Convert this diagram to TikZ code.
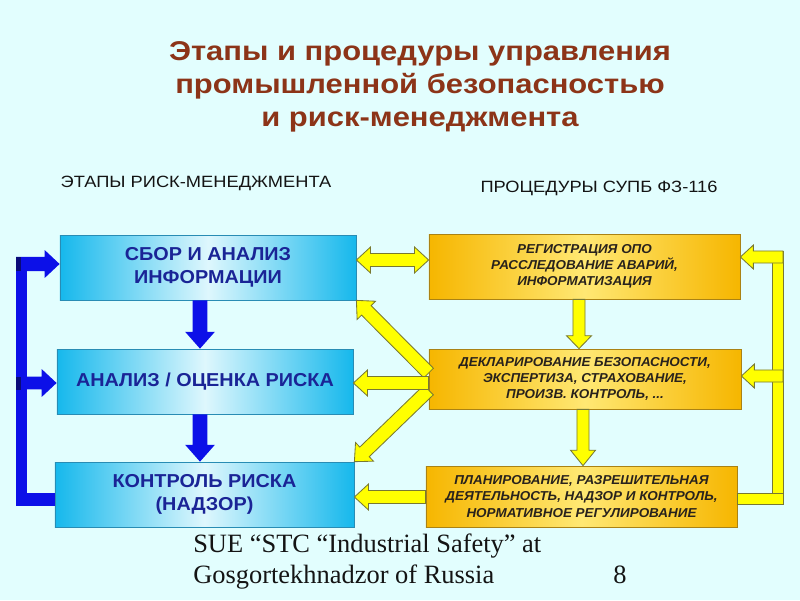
\documentclass[tikz,border=0pt]{standalone}
\usepackage{fontspec}
\setmainfont{Liberation Sans}
\newfontfamily\footfont{Liberation Serif}
\newfontfamily\titlefont[FakeStretch=1.14]{Liberation Sans}
\newfontfamily\headfont[FakeStretch=1.12]{Liberation Sans}
\newfontfamily\stagefont[FakeStretch=1.06]{Liberation Sans}
\newfontfamily\procfont[FakeStretch=1.04]{Liberation Sans}
\usetikzlibrary{calc}
\definecolor{pagebg}{RGB}{226,254,254}
\definecolor{titlebrown}{RGB}{140,52,24}
\definecolor{headblack}{RGB}{20,20,20}
\definecolor{stagecyan}{RGB}{22,184,236}
\definecolor{stagelight}{RGB}{222,247,253}
\definecolor{stageedge}{RGB}{40,140,180}
\definecolor{stagetext}{RGB}{26,36,150}
\definecolor{procorange}{RGB}{246,182,0}
\definecolor{proclight}{RGB}{255,232,115}
\definecolor{procedge}{RGB}{170,130,20}
\definecolor{proctext}{RGB}{40,34,28}
\definecolor{flowblue}{RGB}{12,16,232}
\definecolor{flowbluedark}{RGB}{10,10,120}
\definecolor{flowyellow}{RGB}{255,255,0}
\definecolor{flowyellowedge}{RGB}{120,120,50}
\definecolor{foottext}{RGB}{20,20,20}

% block arrow: style, tail, tip, shaft half width, head half width, head length
\newcommand{\blockarr}[6]{%
  \coordinate (headbase) at ($(#3)!#6!(#2)$);
  \path[#1] ($(#2)!#4!90:(#3)$) -- ($(headbase)!#4!90:(#3)$)
    -- ($(headbase)!#5!90:(#3)$) -- (#3)
    -- ($(headbase)!#5!-90:(#3)$) -- ($(headbase)!#4!-90:(#3)$)
    -- ($(#2)!#4!-90:(#3)$) -- cycle;}
% same with a head at both ends
\newcommand{\dblockarr}[6]{%
  \coordinate (headbase) at ($(#3)!#6!(#2)$);
  \coordinate (tailbase) at ($(#2)!#6!(#3)$);
  \path[#1] (#2) -- ($(tailbase)!#5!90:(#3)$) -- ($(tailbase)!#4!90:(#3)$)
    -- ($(headbase)!#4!90:(#3)$) -- ($(headbase)!#5!90:(#3)$) -- (#3)
    -- ($(headbase)!#5!-90:(#3)$) -- ($(headbase)!#4!-90:(#3)$)
    -- ($(tailbase)!#4!-90:(#3)$) -- ($(tailbase)!#5!-90:(#3)$) -- cycle;}

\tikzset{
  stagebox/.style={draw=stageedge, line width=0.5pt, left color=stagecyan, right color=stagecyan,
    middle color=stagelight, minimum width=7.4cm, minimum height=1.625cm, inner sep=0pt,
    align=center, text=stagetext, font=\stagefont\fontsize{13.3}{16.5}\selectfont\bfseries},
  procbox/.style={draw=procedge, line width=0.5pt, left color=procorange, right color=procorange,
    middle color=proclight, minimum width=7.775cm, minimum height=1.625cm, inner sep=0pt,
    align=center, text=proctext, font=\procfont\fontsize{9.2}{11.5}\selectfont\bfseries\itshape},
  headtext/.style={text=headblack, inner sep=0pt, font=\headfont\fontsize{11.6}{13}\selectfont},
  blueflow/.style={fill=flowblue},
  yellowflow/.style={fill=flowyellow, draw=flowyellowedge, line width=0.6pt},
}

\begin{document}
\begin{tikzpicture}[x=0.025cm, y=-0.025cm]

% 1. BACKGROUND
\fill[pagebg] (0,0) rectangle (800,600);

% 2. TITLE & COLUMN HEADS
\node[text=titlebrown, align=center, inner sep=0pt, font=\titlefont\fontsize{19.3}{23.4}\selectfont\bfseries] (title) at (420,87)
  {Этапы и процедуры управления\\промышленной безопасностью\\и риск-менеджмента};
\node[headtext] (stagehead) at (196,183) {ЭТАПЫ РИСК-МЕНЕДЖМЕНТА};
\node[headtext] (prochead) at (599,188) {ПРОЦЕДУРЫ СУПБ ФЗ-116};

% 3. STAGES (left column)
\node[stagebox] (stage1) at (208,267.5) {СБОР И АНАЛИЗ\\ИНФОРМАЦИИ};
\node[stagebox] (stage2) at (205,381.5) {АНАЛИЗ / ОЦЕНКА РИСКА};
\node[stagebox, minimum width=7.475cm] (stage3) at (204.5,494.5) {КОНТРОЛЬ РИСКА\\(НАДЗОР)};

% 4. PROCEDURES (right column)
\node[procbox] (proc1) at (584.5,266.5) {РЕГИСТРАЦИЯ ОПО\\РАССЛЕДОВАНИЕ АВАРИЙ,\\ИНФОРМАТИЗАЦИЯ};
\node[procbox, minimum width=7.8cm, minimum height=1.5cm] (proc2) at (585,379)
  {ДЕКЛАРИРОВАНИЕ БЕЗОПАСНОСТИ,\\ЭКСПЕРТИЗА, СТРАХОВАНИЕ,\\ПРОИЗВ. КОНТРОЛЬ, ...};
\node[procbox, minimum height=1.525cm] (proc3) at (581.5,496.5)
  {ПЛАНИРОВАНИЕ, РАЗРЕШИТЕЛЬНАЯ\\ДЕЯТЕЛЬНОСТЬ, НАДЗОР И КОНТРОЛЬ,\\НОРМАТИВНОЕ РЕГУЛИРОВАНИЕ};

% 5. BLUE FLOW
\coordinate (stageDown) at (200,0);
\blockarr{blueflow}{stage1.south -| stageDown}{stage2.north -| stageDown}{5.3pt}{10.6pt}{12pt}
\blockarr{blueflow}{stage2.south -| stageDown}{stage3.north -| stageDown}{5.3pt}{10.6pt}{12pt}
% feedback loop
\coordinate (loopTop) at (16,264);
\coordinate (loopMid) at (16,383);
\coordinate (loopBot) at (16,499.5);
\path[blueflow] ($(loopTop)+(0,-7)$) rectangle ($(loopBot)+(11,6.5)$);
\path[blueflow] ($(loopBot)+(0,-6.5)$) rectangle ($(stage3.west |- loopBot)+(0,6.5)$);
\blockarr{blueflow}{loopTop}{stage1.west |- loopTop}{5pt}{9.9pt}{10.6pt}
\blockarr{blueflow}{loopMid}{stage2.west |- loopMid}{4.6pt}{9.9pt}{10.6pt}
\fill[flowbluedark] ($(loopTop)+(0,-7)$) rectangle ($(loopTop)+(5,7)$);
\fill[flowbluedark] ($(loopMid)+(0,-6.5)$) rectangle ($(loopMid)+(5,6.5)$);

% 6. YELLOW FLOW
\coordinate (linkTop) at (0,260);
\coordinate (linkMid) at (0,383);
\coordinate (linkBot) at (0,497);
\coordinate (fanUp) at ($(proc2.west)+(0,-6)$);
\coordinate (fanDown) at ($(proc2.west)+(0,11)$);
\dblockarr{yellowflow}{stage1.east |- linkTop}{proc1.west |- linkTop}{4.6pt}{9.2pt}{10pt}
\blockarr{yellowflow}{fanUp}{stage1.south east}{4.8pt}{9.2pt}{10pt}
\blockarr{yellowflow}{fanDown}{stage3.north east}{4.8pt}{9.2pt}{10pt}
\blockarr{yellowflow}{proc2.west |- linkMid}{stage2.east |- linkMid}{4.6pt}{9.2pt}{10pt}
\blockarr{yellowflow}{proc3.west |- linkBot}{stage3.east |- linkBot}{4.6pt}{9.2pt}{10pt}
% between procedures
\coordinate (procDownA) at (579,0);
\coordinate (procDownB) at (583,0);
\blockarr{yellowflow}{proc1.south -| procDownA}{proc2.north -| procDownA}{4.3pt}{8.9pt}{9.2pt}
\blockarr{yellowflow}{proc2.south -| procDownB}{proc3.north -| procDownB}{4.3pt}{8.9pt}{11pt}
% right loop
\coordinate (rloopTop) at (783,257);
\coordinate (rloopMid) at (783,376);
\coordinate (rloopBot) at (783,498.5);
\path[yellowflow] ($(rloopTop)+(-11,-6)$) rectangle ($(rloopBot)+(0,5.5)$);
\path[yellowflow] ($(proc3.east |- rloopBot)+(0,-5.5)$) rectangle ($(rloopBot)+(0,5.5)$);
\blockarr{yellowflow}{rloopTop}{proc1.east |- rloopTop}{4.3pt}{8.5pt}{9.2pt}
\blockarr{yellowflow}{rloopMid}{proc2.east |- rloopMid}{4.3pt}{8.5pt}{9.2pt}

% 7. FOOTER
\node[anchor=base west, inner sep=0pt, text=foottext, font=\footfont\fontsize{18.8}{22}\selectfont] (footer1) at (193,552)
  {SUE “STC “Industrial Safety” at};
\node[anchor=base west, inner sep=0pt, text=foottext, font=\footfont\fontsize{18.8}{22}\selectfont] (footer2) at (193,583)
  {Gosgortekhnadzor of Russia};
\node[anchor=base west, inner sep=0pt, text=foottext, font=\footfont\fontsize{18.8}{22}\selectfont] (pagenum) at (613,583) {8};

\end{tikzpicture}
\end{document}
